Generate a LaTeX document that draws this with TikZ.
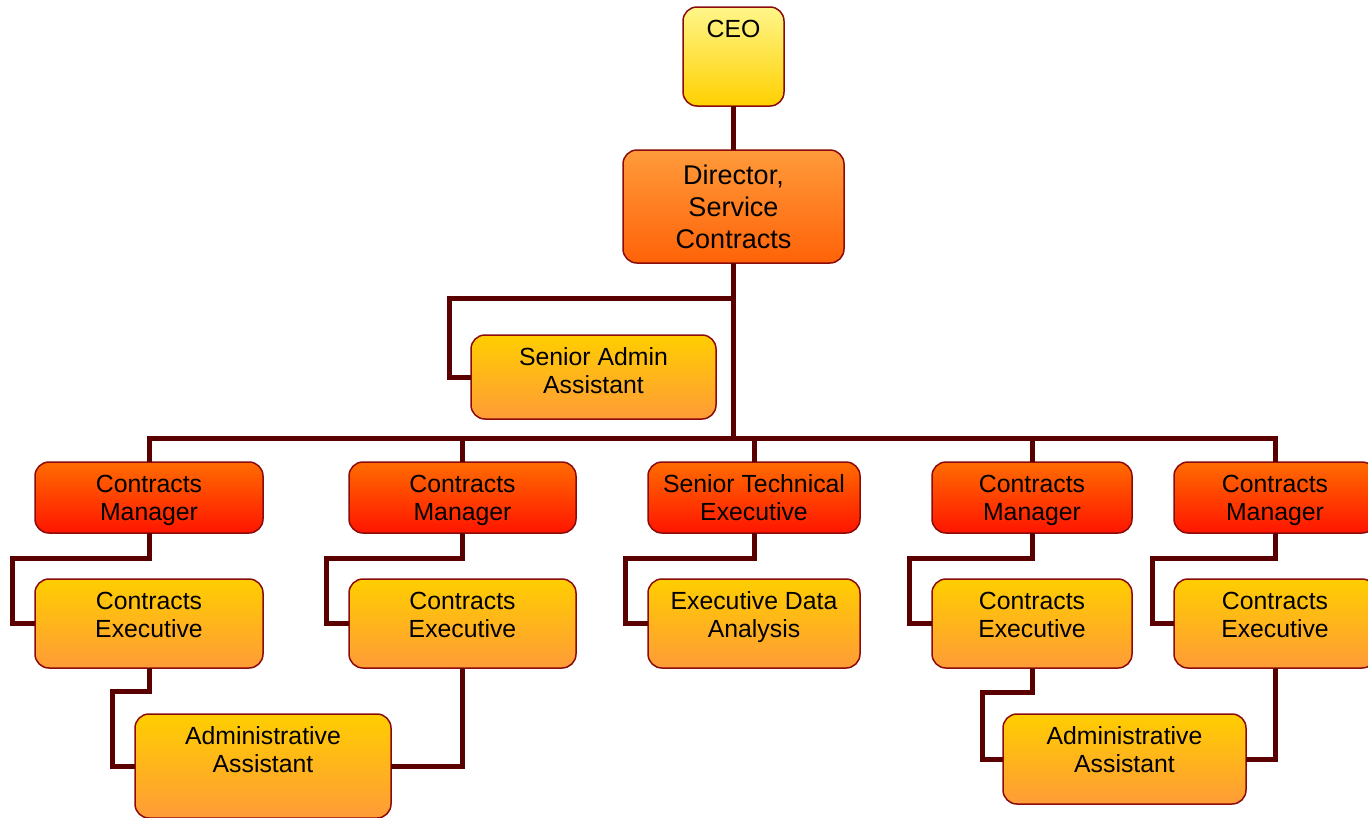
\documentclass[tikz,border=0pt]{standalone}
\usepackage{fontspec}
\setmainfont{Liberation Sans}
\usepackage{tikz}
\usetikzlibrary{positioning}

\definecolor{ceotop}{HTML}{FFF68A}
\definecolor{ceobot}{HTML}{FFD000}
\definecolor{dirtop}{HTML}{FF9B3B}
\definecolor{dirbot}{HTML}{FF6208}
\definecolor{mgrtop}{HTML}{FF6C00}
\definecolor{mgrbot}{HTML}{FF1500}
\definecolor{exectop}{HTML}{FFCE00}
\definecolor{execbot}{HTML}{FF9B38}
\definecolor{boxline}{HTML}{8B0A0A}
\definecolor{linkline}{HTML}{5A0000}

\begin{document}
\begin{tikzpicture}[x=1pt,y=-1pt,
    box/.style={rectangle, rounded corners=14pt, draw=boxline, line width=1.5pt,
        inner sep=0pt, outer sep=0pt},
    ceobox/.style={box, top color=ceotop, bottom color=ceobot},
    dirbox/.style={box, top color=dirtop, bottom color=dirbot},
    mgrbox/.style={box, top color=mgrtop, bottom color=mgrbot, minimum height=71pt},
    execbox/.style={box, top color=exectop, bottom color=execbot},
    boxtext/.style={anchor=north, align=center, inner sep=0pt, yshift=-12.5pt,
        font=\fontsize{24.8}{28}\selectfont},
    bigtext/.style={anchor=north, align=center, inner sep=0pt, yshift=-14.5pt,
        font=\fontsize{27}{32}\selectfont},
    link/.style={draw=linkline, line width=5pt}]
    % page size of the chart:
    \useasboundingbox (0,0) rectangle (1368,817);

    % Top of the chart:
    \node [ceobox, minimum width=101pt, minimum height=99pt,
        label={[boxtext]north:{CEO}}] (ceo) at (733.5,56.5) {};
    \node [dirbox, minimum width=221pt, minimum height=113pt,
        label={[bigtext]north:{Director,\\Service\\Contracts}}] (dir) at (733.5,206.5) {};
    \node [execbox, minimum width=245pt, minimum height=84pt,
        label={[boxtext]north:{Senior Admin\\Assistant}}] (saa) at (593.5,377) {};

    % Managers row:
    \node [mgrbox, minimum width=228pt, label={[boxtext]north:{Contracts\\Manager}}] (cm1) at (149,497.5) {};
    \node [mgrbox, minimum width=227pt, label={[boxtext]north:{Contracts\\Manager}}] (cm2) at (462.5,497.5) {};
    \node [mgrbox, minimum width=212pt, label={[boxtext]north:{Senior Technical\\Executive}}] (ste) at (754,497.5) {};
    \node [mgrbox, minimum width=200pt, label={[boxtext]north:{Contracts\\Manager}}] (cm3) at (1032,497.5) {};
    \node [mgrbox, minimum width=202pt, label={[boxtext]north:{Contracts\\Manager}}] (cm4) at (1275,497.5) {};

    % Executives row:
    \node [execbox, minimum width=228pt, minimum height=89pt, label={[boxtext]north:{Contracts\\Executive}}] (ce1) at (149,623.5) {};
    \node [execbox, minimum width=227pt, minimum height=89pt, label={[boxtext]north:{Contracts\\Executive}}] (ce2) at (462.5,623.5) {};
    \node [execbox, minimum width=212pt, minimum height=89pt, label={[boxtext]north:{Executive Data\\Analysis}}] (eda) at (754,623.5) {};
    \node [execbox, minimum width=200pt, minimum height=89pt, label={[boxtext]north:{Contracts\\Executive}}] (ce3) at (1032,623.5) {};
    \node [execbox, minimum width=202pt, minimum height=89pt, label={[boxtext]north:{Contracts\\Executive}}] (ce4) at (1275,623.5) {};

    % Assistants at the bottom:
    \node [execbox, minimum width=256pt, minimum height=104pt,
        label={[boxtext]north:{Administrative\\Assistant}}] (aa1) at (263,766) {};
    \node [execbox, minimum width=243pt, minimum height=90pt,
        label={[boxtext]north:{Administrative\\Assistant}}] (aa2) at (1124.5,759) {};

    % Links:
    \coordinate (bus) at ([yshift=-175pt]dir.south);
    \draw [link] (ceo.south) -- (dir.north);
    \draw [link] (dir.south) -- (bus);
    \draw [link] (dir.south) -- ++(0,35) -| ([xshift=-22pt]saa.west) -- (saa.west);
    \foreach \n in {cm1,cm2,ste,cm3,cm4}{%
        \draw [link] (bus) -| (\n.north);}

    % each manager to the box below it, entering from the left:
    \foreach \m/\e/\d in {cm1/ce1/23pt,cm2/ce2/23pt,ste/eda/23pt,cm3/ce3/23pt,cm4/ce4/22pt}{%
        \draw [link] (\m.south) -- ++(0,25) -| ([xshift=-\d]\e.west) -- (\e.west);}

    \draw [link] (ce1.south) -- ++(0,23) -| ([xshift=-23pt]aa1.west) -- (aa1.west);
    \draw [link] (ce2.south) |- (aa1.east);
    \draw [link] (ce3.south) -- ++(0,24) -| ([xshift=-21pt]aa2.west) -- (aa2.west);
    \draw [link] (ce4.south) |- (aa2.east);
\end{tikzpicture}
\end{document}
